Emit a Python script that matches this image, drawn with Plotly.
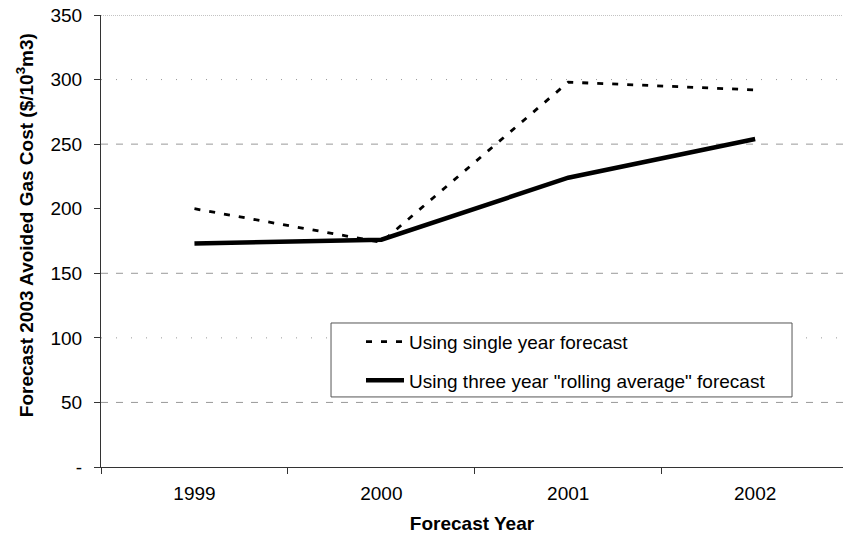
import plotly.graph_objects as go

years = ["1999", "2000", "2001", "2002"]
single_year = [200, 174, 298, 292]
rolling_avg = [173, 176, 224, 254]
y_tickvals = [0, 50, 100, 150, 200, 250, 300, 350]
y_ticktext = ["-", "50", "100", "150", "200", "250", "300", "350"]
dashed_grid = [50, 150, 250]
dotted_grid = [100, 300]
top_grid = [350]

FONT = "Liberation Sans, Arial, sans-serif"

fig = go.Figure()
fig.add_trace(go.Scatter(
    x=years, y=single_year, mode="lines", name="Using single year forecast",
    line=dict(color="black", width=2.8, dash="6px,9px"), legendgroup="a"))
fig.add_trace(go.Scatter(
    x=years, y=rolling_avg, mode="lines",
    name='Using three year "rolling average" forecast',
    line=dict(color="black", width=4.5), legendgroup="b"))

shapes = []
for v in dashed_grid:
    shapes.append(dict(type="line", xref="paper", yref="y", x0=0, x1=1, y0=v, y1=v,
                       line=dict(color="#999999", width=1, dash="7px,8px"), layer="below"))
for v in dotted_grid:
    shapes.append(dict(type="line", xref="paper", yref="y", x0=0, x1=1, y0=v, y1=v,
                       line=dict(color="#999999", width=1, dash="1px,14px"), layer="below"))
for v in top_grid:
    shapes.append(dict(type="line", xref="paper", yref="y", x0=0, x1=1, y0=v, y1=v,
                       line=dict(color="#888888", width=1, dash="1px,1px"), layer="below"))
# legend frame
shapes.append(dict(type="rect", xref="paper", yref="paper", x0=0.31, x1=0.9313,
                   y0=0.155, y1=0.3186, line=dict(color="#555555", width=1),
                   fillcolor="white", layer="below"))

fig.update_layout(
    width=843, height=541,
    margin=dict(l=101, r=0, t=15, b=74),
    paper_bgcolor="white", plot_bgcolor="white",
    font=dict(family=FONT, size=19, color="black"),
    shapes=shapes,
    showlegend=True,
    legend=dict(x=0.3504, y=0.319, xanchor="left", yanchor="top",
                borderwidth=0, bgcolor="rgba(0,0,0,0)",
                font=dict(family=FONT, size=19, color="black"),
                itemwidth=38, tracegroupgap=11),
    xaxis=dict(type="category", range=[-0.5, 3.47], tickson="boundaries",
               ticks="outside", ticklen=6, tickcolor="#333333",
               showline=True, linecolor="#333333", linewidth=1,
               showgrid=False, zeroline=False, ticklabelstandoff=9,
               tickfont=dict(family=FONT, size=19),
               title=dict(text="<b>Forecast Year</b>", font=dict(family=FONT, size=19),
                          standoff=13)),
    yaxis=dict(range=[0, 350], tickvals=y_tickvals, ticktext=y_ticktext,
               ticks="outside", ticklen=6, tickcolor="#333333",
               showline=True, linecolor="#333333", linewidth=1,
               showgrid=False, zeroline=False,
               tickfont=dict(family=FONT, size=19), ticklabelstandoff=8),
    annotations=[dict(text="<b>Forecast 2003 Avoided Gas Cost ($/10<sup>3</sup>m3)</b>",
                      xref="paper", yref="paper", x=-0.1024, y=0.535,
                      xanchor="center", yanchor="middle", textangle=-90,
                      showarrow=False, font=dict(family=FONT, size=19))],
)

fig.write_html("out.html", config={"displayModeBar": False},
               post_script="document.body.style.margin='0';document.body.style.overflow='hidden';")
